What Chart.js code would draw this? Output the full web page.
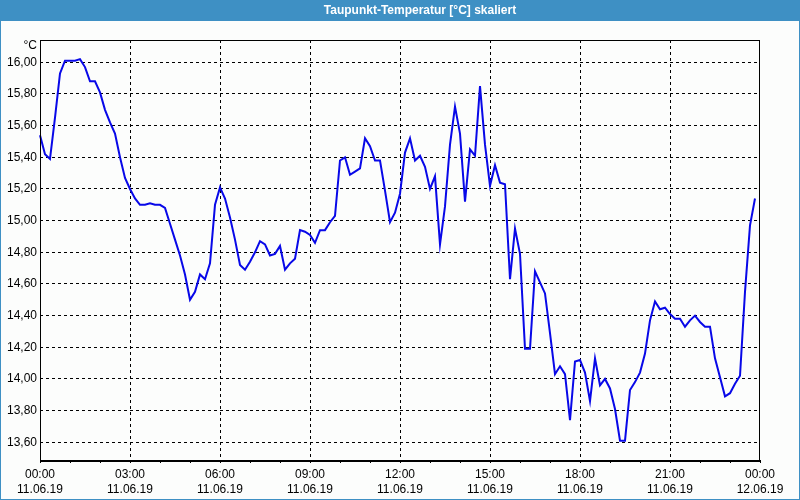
<!DOCTYPE html>
<html lang="de">
<head>
<meta charset="utf-8">
<title>Taupunkt-Temperatur</title>
<script src="https://cdn.jsdelivr.net/npm/chart.js@4/dist/chart.umd.min.js"></script>
<style>
    html, body { margin: 0; padding: 0; background: #fcfdfc; }
    #wrap { width: 800px; height: 500px; position: relative; }
    canvas { display: block; }
</style>
</head>
<body>
<div id="wrap"><canvas id="taupunktChart" width="800" height="500"></canvas></div>
<script>
// Diagrammtitel und Einheit
const chartTitle = 'Taupunkt-Temperatur [°C] skaliert';
const unitLabel = '°C';

// Messwerte alle 10 Minuten ab 11.06.19 00:00
const intervalMinutes = 10;
const taupunkt = [
    15.54, 15.42, 15.39, 15.65, 15.93, 16.01, 16.01, 16.01, 16.02, 15.97,
    15.88, 15.88, 15.81, 15.70, 15.62, 15.55, 15.40, 15.27, 15.20, 15.14,
    15.10, 15.10, 15.11, 15.10, 15.10, 15.08, 14.98, 14.88, 14.78, 14.66,
    14.50, 14.55, 14.66, 14.63, 14.73, 15.10, 15.21, 15.14, 15.02, 14.88,
    14.72, 14.69, 14.74, 14.80, 14.87, 14.85, 14.78, 14.79, 14.84, 14.69,
    14.73, 14.76, 14.94, 14.93, 14.91, 14.86, 14.94, 14.94, 14.99, 15.03,
    15.38, 15.40, 15.29, 15.31, 15.33, 15.52, 15.47, 15.38, 15.38, 15.19,
    14.99, 15.05, 15.17, 15.43, 15.52, 15.38, 15.41, 15.34, 15.20, 15.28,
    14.85, 15.09, 15.48, 15.72, 15.55, 15.12, 15.45, 15.41, 15.85, 15.48,
    15.22, 15.35, 15.24, 15.23, 14.63, 14.95, 14.79, 14.19, 14.19, 14.68,
    14.61, 14.54, 14.29, 14.03, 14.08, 14.03, 13.74, 14.11, 14.12, 14.04,
    13.86, 14.13, 13.96, 14.00, 13.94, 13.81, 13.61, 13.61, 13.93, 13.98,
    14.04, 14.16, 14.37, 14.49, 14.44, 14.45, 14.41, 14.38, 14.38, 14.33,
    14.37, 14.40, 14.36, 14.33, 14.33, 14.13, 14.01, 13.89, 13.91, 13.97,
    14.02, 14.55, 14.97, 15.14
];

// Achsenbeschriftungen
const xTickHours = [0, 3, 6, 9, 12, 15, 18, 21, 24];
const xTickTimes = ['00:00', '03:00', '06:00', '09:00', '12:00', '15:00', '18:00', '21:00', '00:00'];
const xTickDates = ['11.06.19', '11.06.19', '11.06.19', '11.06.19', '11.06.19', '11.06.19', '11.06.19', '11.06.19', '12.06.19'];
const yTicks = [13.6, 13.8, 14.0, 14.2, 14.4, 14.6, 14.8, 15.0, 15.2, 15.4, 15.6, 15.8, 16.0];
const yMin = 13.488;
const yMax = 16.141;

const BAR_BLUE = '#3e90c4';
const FONT = '"Liberation Sans", Arial, sans-serif';

// Punkte fuer die lineare Zeitachse (Stunden)
const points = taupunkt.map((v, i) => ({ x: i * intervalMinutes / 60, y: v }));

// Titelleiste, Fensterrahmen und Einheit
const framePlugin = {
    id: 'frame',
    beforeDraw(chart) {
        const c = chart.ctx;
        c.save();
        c.fillStyle = '#fcfdfc';
        c.fillRect(0, 0, chart.width, chart.height);
        c.fillStyle = BAR_BLUE;
        c.fillRect(0, 0, chart.width, 21);
        c.strokeStyle = BAR_BLUE;
        c.lineWidth = 1;
        c.strokeRect(0.5, 0.5, chart.width - 1, chart.height - 1);
        c.fillStyle = '#ffffff';
        c.font = 'bold 12px ' + FONT;
        c.textAlign = 'center';
        c.textBaseline = 'middle';
        c.fillText(chartTitle, 420, 11);
        c.fillStyle = '#000000';
        c.font = '12px ' + FONT;
        c.textAlign = 'right';
        c.fillText(unitLabel, chart.chartArea.left - 3, chart.chartArea.top + 6);
        c.restore();
    },
    afterDatasetsDraw(chart) {
        const a = chart.chartArea;
        const c = chart.ctx;
        c.save();
        c.strokeStyle = '#000000';
        c.lineWidth = 1;
        c.strokeRect(a.left + 0.5, a.top + 0.5, a.right - a.left - 1, a.bottom - a.top);
        c.lineWidth = 2;
        c.beginPath();
        c.moveTo(a.left, a.bottom + 1);
        c.lineTo(a.right, a.bottom + 1);
        c.stroke();
        c.restore();
    }
};

new Chart(document.getElementById('taupunktChart'), {
    type: 'line',
    data: {
        datasets: [{
            label: chartTitle,
            data: points,
            borderColor: '#0808e8',
            borderWidth: 2,
            pointRadius: 0,
            tension: 0,
            clip: false
        }]
    },
    options: {
        responsive: false,
        animation: false,
        layout: { padding: { top: 40, right: 40, left: 0, bottom: 0 } },
        plugins: {
            legend: { display: false },
            title: { display: false },
            tooltip: { enabled: false }
        },
        scales: {
            x: {
                type: 'linear',
                min: 0,
                max: 24,
                afterBuildTicks: axis => {
                    const t = [];
                    for (let h = 0; h <= 24; h++) t.push({ value: h });
                    axis.ticks = t;
                },
                afterFit: axis => { axis.height = 40; },
                border: { display: false, dash: [3, 3] },
                grid: {
                    color: ctx => (ctx.tick && ctx.tick.value % 3 === 0 && ctx.tick.value > 0 && ctx.tick.value < 24) ? '#000000' : 'rgba(0,0,0,0)',
                    tickColor: '#000000',
                    tickLength: 3,
                    lineWidth: 1,
                    tickBorderDash: []
                },
                ticks: {
                    autoSkip: false,
                    maxRotation: 0,
                    padding: 4,
                    color: '#000000',
                    font: { family: FONT, size: 12, lineHeight: '15px' },
                    callback: v => {
                        const i = xTickHours.indexOf(v);
                        return i >= 0 ? [xTickTimes[i], xTickDates[i]] : '';
                    }
                }
            },
            y: {
                type: 'linear',
                min: yMin,
                max: yMax,
                afterBuildTicks: axis => { axis.ticks = yTicks.map(v => ({ value: v })); },
                afterFit: axis => { axis.width = 40; },
                border: { display: false, dash: [3, 3] },
                grid: {
                    color: '#000000',
                    lineWidth: 1,
                    drawTicks: false
                },
                ticks: {
                    padding: 3,
                    color: '#000000',
                    font: { family: FONT, size: 12 },
                    callback: v => v.toFixed(2).replace('.', ',')
                }
            }
        }
    },
    plugins: [framePlugin]
});
</script>
</body>
</html>
